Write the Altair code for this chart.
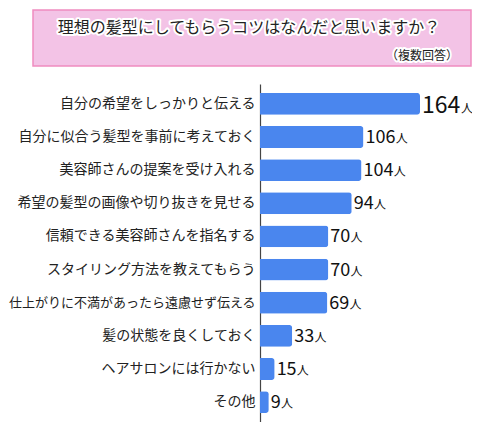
import altair as alt
import pandas as pd

categories = [
    "自分の希望をしっかりと伝える",
    "自分に似合う髪型を事前に考えておく",
    "美容師さんの提案を受け入れる",
    "希望の髪型の画像や切り抜きを見せる",
    "信頼できる美容師さんを指名する",
    "スタイリング方法を教えてもらう",
    "仕上がりに不満があったら遠慮せず伝える",
    "髪の状態を良くしておく",
    "ヘアサロンには行かない",
    "その他",
]
values = [164, 106, 104, 94, 70, 70, 69, 33, 15, 9]
unit = "人"
title_text = "理想の髪型にしてもらうコツはなんだと思いますか？"
subtitle_text = "（複数回答）"

FONT = "Noto Sans CJK JP"
W, H = 212, 338
XMAX = 217.3
PX = XMAX / W  # data units per pixel

df = pd.DataFrame({"cat": categories, "value": values})
top_val = max(values)

base = alt.Chart(df)

y_enc = alt.Y(
    "cat:N",
    sort=categories,
    scale=alt.Scale(paddingInner=0.34, paddingOuter=0.27),
    axis=alt.Axis(
        title=None, ticks=False,
        labelFontSize={"condition": {"test": "length(datum.label) > 18", "value": 13}, "value": 14},
        labelFont=FONT,
        labelColor="#222222", labelLimit=400, labelPadding=5,
        domainColor="#444444", domainWidth=1.2, grid=False,
    ),
)
x_scale = alt.Scale(domain=[0, XMAX], nice=False, zero=True)

bars = base.mark_bar(color="#4a86ee", cornerRadiusEnd=3).encode(
    y=y_enc,
    x=alt.X("value:Q", scale=x_scale, axis=None),
)

# value labels: numbers
num_rest = base.transform_filter(alt.datum.value < top_val).mark_text(
    align="left", baseline="alphabetic", dx=2, dy=6, fontSize=18, font=FONT, color="#111111"
).encode(y=alt.Y("cat:N", sort=categories), x=alt.X("value:Q", scale=x_scale),
         text=alt.Text("value:Q"))

num_top = base.transform_filter(alt.datum.value >= top_val).mark_text(
    align="left", baseline="alphabetic", dx=2, dy=9, fontSize=23, font=FONT, color="#111111"
).encode(y=alt.Y("cat:N", sort=categories), x=alt.X("value:Q", scale=x_scale),
         text=alt.Text("value:Q"))

unit_rest = base.transform_filter(alt.datum.value < top_val).transform_calculate(
    ux=f"datum.value + (length(toString(datum.value)) * 10.1 + 2) * {PX}",
    u=f"'{unit}'",
).mark_text(
    align="left", baseline="alphabetic", dy=6, fontSize=12, font=FONT, color="#111111"
).encode(y=alt.Y("cat:N", sort=categories), x=alt.X("ux:Q", scale=x_scale),
         text="u:N")

unit_top = base.transform_filter(alt.datum.value >= top_val).transform_calculate(
    ux=f"datum.value + (length(toString(datum.value)) * 12.8 + 2.5) * {PX}",
    u=f"'{unit}'",
).mark_text(
    align="left", baseline="alphabetic", dy=9, fontSize=12, font=FONT, color="#111111"
).encode(y=alt.Y("cat:N", sort=categories), x=alt.X("ux:Q", scale=x_scale),
         text="u:N")

# title box
tb = alt.Chart(pd.DataFrame({"t": [title_text], "s": [subtitle_text]}))
box = tb.mark_rect(fill="#f3c3e6", stroke="#f08cc0", strokeWidth=1.5).encode(
    x=alt.value(-227), x2=alt.value(211), y=alt.value(-74), y2=alt.value(-18)
)
t_halo = tb.mark_text(
    fontSize=16, font=FONT, fill="white", stroke="white", strokeWidth=4,
    strokeJoin="round", align="center", baseline="middle"
).encode(x=alt.value(-11), y=alt.value(-56), text="t:N")
t_main = tb.mark_text(
    fontSize=16, font=FONT, color="#222222", align="center", baseline="middle"
).encode(x=alt.value(-11), y=alt.value(-56), text="t:N")
s_halo = tb.mark_text(
    fontSize=12, font=FONT, fill="white", stroke="white", strokeWidth=4,
    strokeJoin="round", align="right", baseline="middle"
).encode(x=alt.value(198), y=alt.value(-28), text="s:N")
s_main = tb.mark_text(
    fontSize=12, font=FONT, color="#222222", align="right", baseline="middle"
).encode(x=alt.value(198), y=alt.value(-28), text="s:N")

chart = alt.layer(
    box, t_halo, t_main, s_halo, s_main,
    bars, num_rest, num_top, unit_rest, unit_top,
).properties(
    width=W, height=H,
    autosize=alt.AutoSizeParams(type="none"),
    padding={"left": 252, "top": 76, "right": 0, "bottom": 0},
).configure_view(stroke=None)

chart.save("out.html", embed_options={"renderer": "svg", "actions": False})
